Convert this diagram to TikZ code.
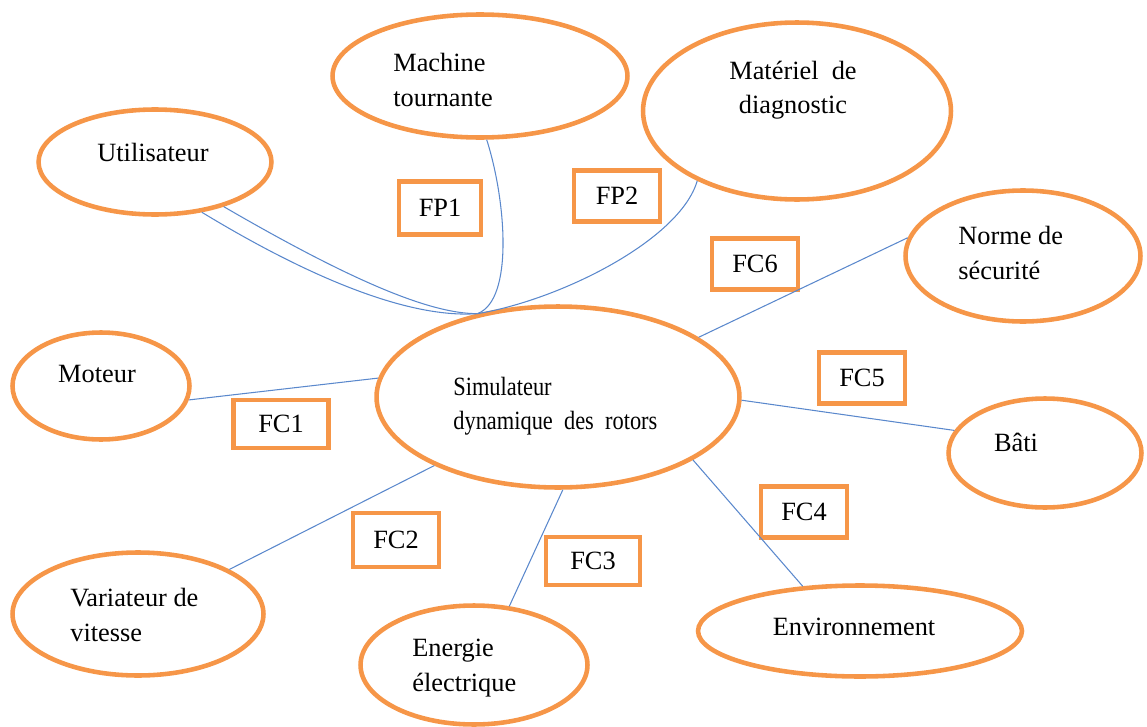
\documentclass[tikz,border=0pt]{standalone}
\usepackage{fontspec}
\setmainfont{Liberation Serif}
\newfontfamily\narrowserif[FakeStretch=0.85]{Liberation Serif}
\usetikzlibrary{shapes.geometric}
\definecolor{bubbleorange}{RGB}{246,150,72}
\definecolor{linkblue}{RGB}{90,136,204}

\begin{document}
\begin{tikzpicture}[x=0.02cm, y=-0.02cm,
    bubble/.style={ellipse, draw=bubbleorange, line width=2.6pt, inner sep=0pt},
    fbox/.style={draw=bubbleorange, line width=2.8pt, minimum width=1.72cm, minimum height=1.02cm, font=\fontsize{15}{19.5}\selectfont},
    txt/.style={font=\fontsize{15}{19.5}\selectfont, align=left, inner sep=0pt},
    link/.style={linkblue, line width=0.6pt}]
    \useasboundingbox (0,0) rectangle (1147,727);

    % Ellipses
    \node[bubble, minimum width=4.66cm, minimum height=2.10cm] (util) at (155,162) {};
    \node[bubble, minimum width=5.90cm, minimum height=2.46cm] (machine) at (480,76) {};
    \node[bubble, minimum width=6.16cm, minimum height=3.54cm] (materiel) at (797,111) {};
    \node[bubble, minimum width=4.70cm, minimum height=2.62cm] (norme) at (1023,256) {};
    \node[bubble, minimum width=3.54cm, minimum height=2.14cm] (moteur) at (101,386) {};
    \node[bubble, minimum width=7.26cm, minimum height=3.62cm] (sim) at (558,397) {};
    \node[bubble, minimum width=3.86cm, minimum height=2.18cm] (bati) at (1045,453) {};
    \node[bubble, minimum width=6.48cm, minimum height=1.82cm] (env) at (860,631) {};
    \node[bubble, minimum width=4.54cm, minimum height=2.38cm] (energie) at (474,665) {};
    \node[bubble, minimum width=5.02cm, minimum height=2.46cm] (variateur) at (138,614) {};

    % Texts
    \node[txt] (t-util) at (153,152) {Utilisateur};
    \node[txt, anchor=west] (t-machine) at (393,80) {Machine\\tournante};
    \node[txt, align=center] (t-materiel) at (793,90) {Matériel\ \ de\\diagnostic};
    \node[txt, anchor=west] (t-norme) at (958,253) {Norme de\\sécurité};
    \node[txt] (t-moteur) at (97,374) {Moteur};
    \node[txt, anchor=west, font=\narrowserif\fontsize{15}{19.5}\selectfont] (t-sim) at (453,406) {Simulateur\\dynamique\ \ des\ \ rotors};
    \node[txt] (t-bati) at (1016,442) {Bâti};
    \node[txt] (t-env) at (854,627) {Environnement};
    \node[txt, anchor=west] (t-energie) at (412,668) {Energie\\électrique};
    \node[txt, anchor=west] (t-variateur) at (70,615) {Variateur de\\vitesse};

    % Function boxes
    \node[fbox, minimum width=1.64cm, minimum height=1.06cm] (fp1) at (440,208) {FP1};
    \node[fbox] (fp2) at (617,196) {FP2};
    \node[fbox] (fc6) at (755,264) {FC6};
    \node[fbox, minimum width=1.90cm, minimum height=0.96cm] (fc1) at (281,424) {FC1};
    \node[fbox] (fc5) at (862,378) {FC5};
    \node[fbox, minimum height=1.08cm] (fc2) at (396,540) {FC2};
    \node[fbox, minimum width=1.88cm, minimum height=0.96cm] (fc3) at (593,561) {FC3};
    \node[fbox] (fc4) at (804,512) {FC4};

    % Principal functions (curves)
    \draw[link] (util.-47) .. controls (330,290) and (420,318) .. (sim.134);
    \draw[link] (util.-33) .. controls (350,280) and (430,314) .. (sim.134);
    \draw[link] (machine.-84) .. controls (506,200) and (514,300) .. (sim.134);
    \draw[link] (materiel.-145) .. controls (680,240) and (560,300) .. (sim.134);

    % Constraint functions
    \draw[link] (moteur.-9) -- (sim.174);
    \draw[link] (variateur.26) -- (sim.-151);
    \draw[link] (energie.59) -- (sim.-87);
    \draw[link] (env.142) -- (sim.-25);
    \draw[link] (bati.166) -- (sim.-1);
    \draw[link] (norme.171) -- (sim.23);
\end{tikzpicture}
\end{document}
